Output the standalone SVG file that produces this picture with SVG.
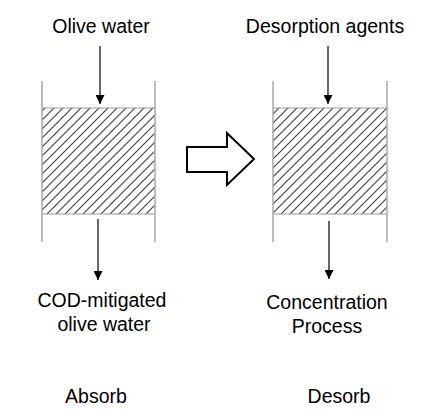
<svg xmlns="http://www.w3.org/2000/svg" width="429" height="417" viewBox="0 0 429 417">
<style>
text{font-family:"Liberation Sans",Arial,sans-serif;font-size:19.5px;fill:#000;text-anchor:middle}
.wall{stroke:#a8a8a8;stroke-width:1.5;fill:none}
.bed{fill:url(#hatch);stroke:none}
.edge{stroke:#999;stroke-width:1.2}
.conn{stroke:#000;stroke-width:1.2;fill:none;marker-end:url(#ah)}
</style>
<defs>
<pattern id="hatch" width="9" height="9" patternUnits="userSpaceOnUse">
<path d="M-2,2 L2,-2 M0,9 L9,0 M7,11 L11,7" stroke="#444" stroke-width="1.2"/>
</pattern>
<marker id="ah" viewBox="0 0 10 10" refX="10" refY="5" markerWidth="9" markerHeight="9" markerUnits="userSpaceOnUse" orient="auto">
<path d="M0,0 L10,5 L0,10 Z" fill="#000"/>
</marker>
</defs>
<g id="absorb-column">
<rect class="bed" x="42" y="108" width="113" height="106"/>
<line class="edge" x1="42" y1="108" x2="155" y2="108"/>
<line class="edge" x1="42" y1="214" x2="155" y2="214"/>
<line class="wall" x1="42" y1="81" x2="42" y2="242"/>
<line class="wall" x1="155" y1="81" x2="155" y2="242"/>
</g>
<g id="desorb-column">
<rect class="bed" x="273" y="108" width="114" height="106"/>
<line class="edge" x1="273" y1="108" x2="387" y2="108"/>
<line class="edge" x1="273" y1="214" x2="387" y2="214"/>
<line class="wall" x1="273" y1="81" x2="273" y2="242"/>
<line class="wall" x1="387" y1="81" x2="387" y2="242"/>
</g>
<g id="big-arrow">
<polygon points="187,147 227,147 227,133 254,159 227,185 227,172 187,172" fill="#fff" stroke="#000" stroke-width="2"/>
</g>
<g id="labels">
<text id="olive-water" x="101" y="33">Olive water</text>
<text id="desorption-agents" x="325" y="33">Desorption agents</text>
<text id="cod" x="102" y="307"><tspan x="102">COD-mitigated</tspan><tspan x="104" y="331">olive water</tspan></text>
<text id="concentration" x="327" y="309"><tspan x="327">Concentration</tspan><tspan x="327" y="333">Process</tspan></text>
<text id="absorb" x="96" y="403">Absorb</text>
<text id="desorb" x="339" y="403">Desorb</text>
</g>
<g id="connectors">
<line class="conn" x1="100" y1="46" x2="100" y2="104"/>
<line class="conn" x1="98" y1="219" x2="98" y2="280"/>
<line class="conn" x1="328" y1="46" x2="328" y2="104"/>
<line class="conn" x1="329" y1="221" x2="329" y2="279"/>
</g>
</svg>
